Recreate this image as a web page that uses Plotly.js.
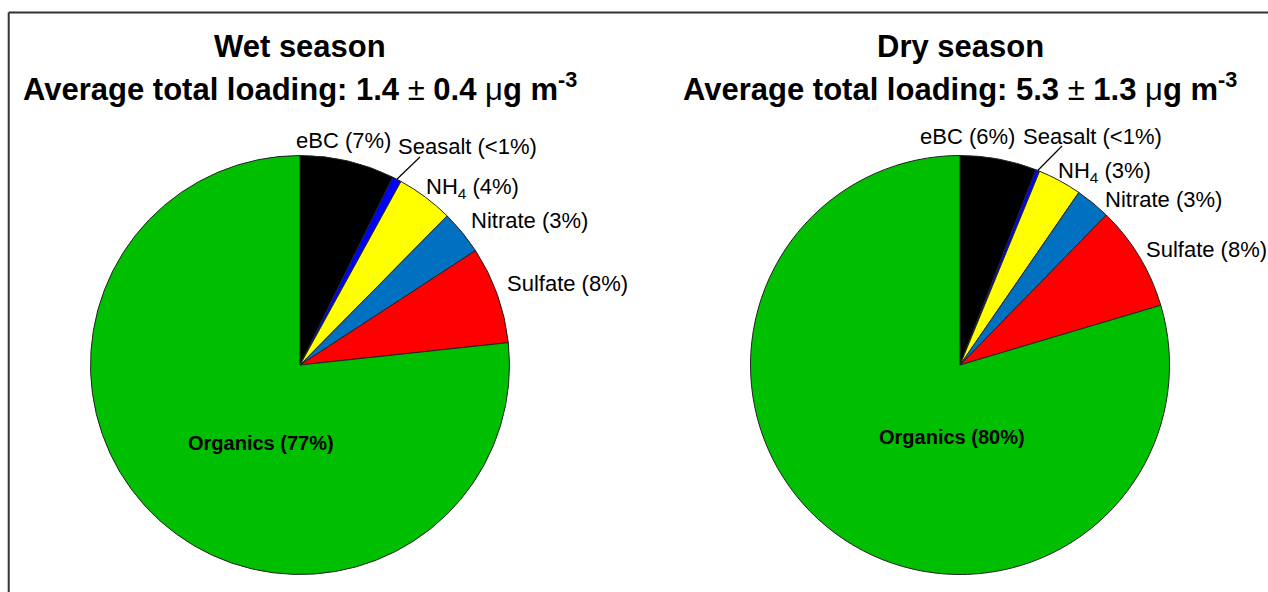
<!DOCTYPE html>
<html>
<head>
<meta charset="utf-8">
<script src="https://cdn.plot.ly/plotly-3.0.1.min.js"></script>
<style>html,body{margin:0;padding:0;background:#fff;}#chart{width:1268px;height:592px;}</style>
</head>
<body>
<div id="chart"></div>
<script>
// ---- data ----
const components = ['eBC', 'Seasalt', 'NH4', 'Nitrate', 'Sulfate', 'Organics'];
const wetValues = [7.3, 0.7, 4.4, 3.4, 7.5, 76.7];
const dryValues = [5.9, 0.3, 3.4, 2.7, 8.1, 79.6];
const wetLabels = ['eBC (7%)', 'Seasalt (&lt;1%)', 'NH<sub>4</sub> (4%)', 'Nitrate (3%)', 'Sulfate (8%)', 'Organics (77%)'];
const dryLabels = ['eBC (6%)', 'Seasalt (&lt;1%)', 'NH<sub>4</sub> (3%)', 'Nitrate (3%)', 'Sulfate (8%)', 'Organics (80%)'];
const wetTitle = ['Wet season', '1.4', '0.4'];
const dryTitle = ['Dry season', '5.3', '1.3'];
const sliceColors = ['#000000', '#0000FF', '#FFFF00', '#0070C0', '#FF0000', '#00BF00'];

// ---- layout helpers (pixel -> paper) ----
const W = 1268, H = 592;
const px = x => x / W;
const py = y => 1 - y / H;
const FONT = 'Liberation Sans, Arial, sans-serif';

const pies = [
  {cx: 300, cy: 365, r: 209.5, values: wetValues, labels: wetLabels, title: wetTitle,
   labelPos: [[294,140],[396,147],[424,188],[469,221],[505,283]], organicsPos: [261,443], leaderEnd: [420,157]},
  {cx: 960, cy: 365, r: 209.5, values: dryValues, labels: dryLabels, title: dryTitle,
   labelPos: [[918,136],[1021,136],[1056,172],[1103,199],[1144,249]], organicsPos: [952,437], leaderEnd: [1062,146]}
];

const traces = [];
const annotations = [];
const shapes = [];

pies.forEach(p => {
  traces.push({
    type: 'pie',
    labels: components,
    values: p.values,
    sort: false,
    direction: 'clockwise',
    rotation: 0,
    textinfo: 'none',
    hoverinfo: 'label+percent',
    marker: {colors: sliceColors, line: {color: '#222', width: 1}},
    domain: {x: [px(p.cx - p.r), px(p.cx + p.r)], y: [py(p.cy + p.r), py(p.cy - p.r)]},
    showlegend: false
  });
  // titles
  annotations.push({xref:'paper', yref:'paper', x: px(p.cx), y: py(46), xanchor:'center', yanchor:'middle',
    text: '<b>' + p.title[0] + '</b>', showarrow:false, font:{family:FONT, size:31, color:'#000'}});
  annotations.push({xref:'paper', yref:'paper', x: px(p.cx), y: py(87), xanchor:'center', yanchor:'middle',
    text: '<b>Average total loading: ' + p.title[1] + ' </b><span style="font-weight:normal">±</span><b> ' + p.title[2] +
          ' </b><span style="font-weight:normal">μ</span><b>g m<sup>-3</sup></b>',
    showarrow:false, font:{family:FONT, size:31, color:'#000'}});
  // slice labels
  p.labelPos.forEach((pos, i) => {
    annotations.push({xref:'paper', yref:'paper', x: px(pos[0]), y: py(pos[1]), xanchor:'left', yanchor:'middle',
      text: p.labels[i], showarrow:false, font:{family:FONT, size:22, color:'#000'}});
  });
  annotations.push({xref:'paper', yref:'paper', x: px(p.organicsPos[0]), y: py(p.organicsPos[1]), xanchor:'center', yanchor:'middle',
    text: '<b>' + p.labels[5] + '</b>', showarrow:false, font:{family:FONT, size:20, color:'#000'}});
  // leader line for Seasalt, from mid-angle of the slice
  const total = p.values.reduce((a, b) => a + b, 0);
  const mid = (p.values[0] + p.values[1] / 2) / total * 2 * Math.PI;
  const sx = p.cx + p.r * Math.sin(mid), sy = p.cy - p.r * Math.cos(mid);
  shapes.push({type:'line', xref:'paper', yref:'paper', x0: px(sx), y0: py(sy), x1: px(p.leaderEnd[0]), y1: py(p.leaderEnd[1]),
    line:{color:'#000', width:1.2}});
});

// frame lines
shapes.push({type:'line', xref:'paper', yref:'paper', x0: px(8.7), y0: py(12.5), x1: 1, y1: py(12.5), line:{color:'#333', width:2}});
shapes.push({type:'line', xref:'paper', yref:'paper', x0: px(8.7), y0: py(12.5), x1: px(8.7), y1: 0, line:{color:'#333', width:2}});

const layout = {
  width: W, height: H,
  margin: {l:0, r:0, t:0, b:0},
  paper_bgcolor: '#fff',
  showlegend: false,
  annotations: annotations,
  shapes: shapes,
  font: {family: FONT}
};

Plotly.newPlot('chart', traces, layout, {displayModeBar:false, staticPlot:true});
</script>
</body>
</html>
